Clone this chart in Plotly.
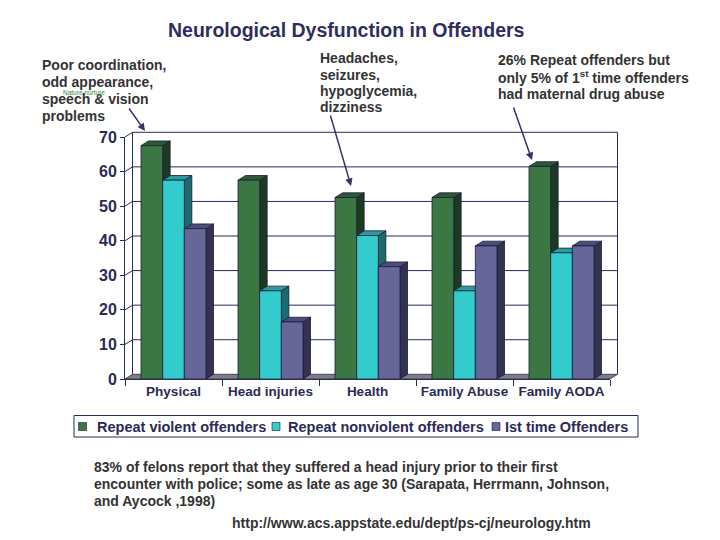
import plotly.graph_objects as go

# ---------------- data ----------------
categories = ["Physical", "Head injuries", "Health", "Family Abuse", "Family AODA"]
repeat_violent = [67.5, 57.5, 52.5, 52.5, 61.5]
repeat_nonviolent = [57.5, 25.5, 41.5, 25.5, 36.5]
first_time = [43.5, 16.5, 32.5, 38.5, 38.5]
series_names = ["Repeat violent offenders", "Repeat nonviolent offenders", "Ist time Offenders"]
y_tick_values = [0, 10, 20, 30, 40, 50, 60, 70]

# ---------------- styling ----------------
front_colors = ["#3b7742", "#33cccc", "#666699"]
top_colors = ["#2c5a32", "#279d9d", "#4d4d7d"]
side_colors = ["#1d3a21", "#1b6b6c", "#33334f"]
edge = "#1c1c3c"
navy = "#2b2b55"
grey_text = "#333333"
FONT = "Liberation Sans, Arial, sans-serif"

# page body margin shifts the figure; work in screen pixels and convert
OFF = 8
W, H = 720, 540
SL, SR, ST, SB = 125, 610, 137, 379   # plot area in screen pixels
PW = SR - SL
PH = SB - ST
YMAX = 70
DX_PX, DY_PX = 7.5, 4.7
N = len(categories)


def px(x):
    return (x - SL) / PW


def py(y):
    return (SB - y) / PH


series = [repeat_violent, repeat_nonviolent, first_time]

fig = go.Figure()
for name, vals, col in zip(series_names, series, front_colors):
    fig.add_trace(go.Bar(
        x=categories, y=vals, name=name,
        marker=dict(color=col, line=dict(color=edge, width=0.8)),
        showlegend=False,
    ))

shapes = []
# floor
shapes.append(dict(
    type="path", xref="paper", yref="paper", layer="below",
    path=(f"M {px(SL)},{py(SB)} L {px(SR)},{py(SB)} "
          f"L {px(SR+DX_PX)},{py(SB-DY_PX)} L {px(SL+DX_PX)},{py(SB-DY_PX)} Z"),
    fillcolor="#7f7f7f", line=dict(color=navy, width=0.8)))
# gridlines on back wall (with short diagonal on side wall)
for v in y_tick_values[1:]:
    yv = SB - v / YMAX * PH
    shapes.append(dict(
        type="path", xref="paper", yref="paper", layer="below",
        path=(f"M {px(SL)},{py(yv)} L {px(SL+DX_PX)},{py(yv-DY_PX)} "
              f"L {px(SR+DX_PX)},{py(yv-DY_PX)}"),
        line=dict(color=navy, width=1)))
# back wall verticals
for xw in (SL + DX_PX, SR + DX_PX):
    shapes.append(dict(
        type="line", xref="paper", yref="paper", layer="below",
        x0=px(xw), x1=px(xw), y0=py(SB - DY_PX), y1=py(ST - DY_PX),
        line=dict(color=navy, width=1)))

# 3D faces for each bar, derived from the data
group_w = 0.67
bw = group_w / 3
dxc = DX_PX / (PW / N)
dyv = DY_PX * YMAX / PH
for j in range(N):
    for i, vals in enumerate(series):
        v = vals[j]
        x0 = j - group_w / 2 + i * bw
        x1 = x0 + bw
        shapes.append(dict(
            type="path", xref="x", yref="y", layer="below",
            path=f"M {x1},0 L {x1},{v} L {x1+dxc},{v+dyv} L {x1+dxc},{dyv} Z",
            fillcolor=side_colors[i], line=dict(color=edge, width=0.8)))
        shapes.append(dict(
            type="path", xref="x", yref="y", layer="below",
            path=f"M {x0},{v} L {x1},{v} L {x1+dxc},{v+dyv} L {x0+dxc},{v+dyv} Z",
            fillcolor=top_colors[i], line=dict(color=edge, width=0.8)))

# manual legend
shapes.append(dict(type="rect", xref="paper", yref="paper",
                   x0=px(74), x1=px(638), y0=py(415.5), y1=py(437),
                   line=dict(color=navy, width=1), fillcolor="rgba(0,0,0,0)"))
legend_sq_x = [78.5, 272, 492]
legend_txt_x = [95, 285.5, 503]
annotations = []
for sx, tx, name, col in zip(legend_sq_x, legend_txt_x, series_names, front_colors):
    shapes.append(dict(type="rect", xref="paper", yref="paper",
                       x0=px(sx), x1=px(sx + 8), y0=py(430.5), y1=py(422.5),
                       fillcolor=col, line=dict(color=edge, width=0.6)))
    annotations.append(dict(x=px(tx), y=py(426.5), xref="paper", yref="paper",
                            xanchor="left", yanchor="middle", showarrow=False,
                            text=f"<b>{name}</b>",
                            font=dict(family=FONT, size=14.5, color=navy)))


def add_line(text, x, y, size=14, color=grey_text, anchor="left"):
    annotations.append(dict(x=px(x), y=py(y), xref="paper", yref="paper",
                            xanchor=anchor, yanchor="middle", showarrow=False,
                            text=text, font=dict(family=FONT, size=size, color=color)))


# title
add_line("<b>Neurological Dysfunction in Offenders</b>", 346.5, 30, size=19.5,
         color="#2e2e5e", anchor="center")

for t, y in zip(["Poor coordination,", "odd appearance,", "speech & vision", "problems"],
                [65, 82, 99, 116]):
    add_line(f"<b>{t}</b>", 40, y)
add_line("Nature nurture", 61, 93, size=6.5, color="#3a8a3a")

for t, y in zip(["Headaches,", "seizures,", "hypoglycemia,", "dizziness"],
                [58, 74.5, 91, 107.5]):
    add_line(f"<b>{t}</b>", 318, y)

for t, y in zip(["26% Repeat offenders but",
                 "only 5% of 1<sup>st</sup> time offenders",
                 "had maternal drug abuse"], [60, 77, 94]):
    add_line(f"<b>{t}</b>", 496, y)

for t, y in zip(["83% of felons report that they suffered a head injury prior to their first",
                 "encounter with police; some as late as age 30 (Sarapata, Herrmann, Johnson,",
                 "and Aycock ,1998)"], [467, 484, 501]):
    add_line(f"<b>{t}</b>", 92, y, size=14)
add_line("<b>http://www.acs.appstate.edu/dept/ps-cj/neurology.htm</b>", 230, 523, size=14)

# arrows (tail offsets in pixels relative to head)
for (tx, ty), (hx, hy) in [((128, 107), (145, 131)),
                           ((330, 114), (351, 186)),
                           ((513, 106), (532, 160))]:
    annotations.append(dict(x=px(hx), y=py(hy), ax=tx - hx, ay=ty - hy,
                            xref="paper", yref="paper",
                            text="", showarrow=True, arrowhead=2, arrowsize=1,
                            arrowwidth=1.5, arrowcolor="#333366"))

fig.update_layout(
    width=W, height=H,
    margin=dict(l=SL - OFF, r=W - (SR - OFF), t=ST - OFF, b=H - (SB - OFF), pad=0),
    paper_bgcolor="white", plot_bgcolor="white",
    barmode="group", bargap=0.33, bargroupgap=0,
    showlegend=False,
    shapes=shapes, annotations=annotations,
    xaxis=dict(type="category", showgrid=False, zeroline=False,
               showline=True, linecolor=navy, linewidth=1,
               tickson="boundaries", ticks="outside", ticklen=6, tickcolor=navy,
               tickfont=dict(family=FONT, size=13.5, color=navy),
               tickvals=categories, ticktext=[f"<b>{c}</b>" for c in categories],
               range=[-0.5, N - 0.5], fixedrange=True),
    yaxis=dict(range=[0, YMAX], showgrid=False, zeroline=False,
               showline=True, linecolor=navy, linewidth=1,
               ticks="outside", ticklen=4, tickcolor=navy,
               tickvals=y_tick_values, ticktext=[f"<b>{v}</b>" for v in y_tick_values],
               tickfont=dict(family=FONT, size=16, color=navy), fixedrange=True),
)

fig.write_html("out.html")
